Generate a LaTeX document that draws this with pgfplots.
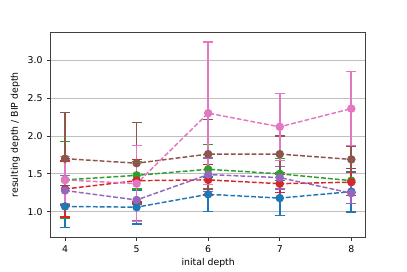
\documentclass[border=0pt]{standalone}
\usepackage{fontspec}
\setmainfont{DejaVu Sans}
\usepackage{pgfplots}
\pgfplotsset{compat=1.18}
\usepackage{pgfplotstable}
\definecolor{tblue}{HTML}{1F77B4}
\definecolor{tgreen}{HTML}{2CA02C}
\definecolor{tred}{HTML}{D62728}
\definecolor{tpurple}{HTML}{9467BD}
\definecolor{tbrown}{HTML}{8C564B}
\definecolor{tpink}{HTML}{E377C2}
\pgfplotstableread{
x y e
4 1.07 0.28
5 1.06 0.22
6 1.23 0.23
7 1.18 0.23
8 1.265 0.27
}\blue
\pgfplotstableread{
x y e
4 1.42 0.51
5 1.48 0.18
6 1.56 0.33
7 1.50 0.20
8 1.41 0.16
}\green
\pgfplotstableread{
x y e
4 1.30 0.37
5 1.41 0.28
6 1.42 0.20
7 1.37 0.12
8 1.39 0.18
}\red
\pgfplotstableread{
x y e
4 1.28 0.20
5 1.155 0.27
6 1.49 0.22
7 1.45 0.15
8 1.245 0.14
}\purple
\pgfplotstableread{
x y e
4 1.70 0.61
5 1.64 0.54
6 1.76 0.46
7 1.76 0.24
8 1.69 0.17
}\brown
\pgfplotstableread{
x y e
4 1.42 0.31
5 1.37 0.50
6 2.30 0.94
7 2.12 0.44
8 2.36 0.49
}\pink
\begin{document}
\begin{tikzpicture}
\useasboundingbox (-38pt,-25.5pt) rectangle (267pt,178pt);
\begin{axis}[
  at={(0,0)}, anchor=south west,
  scale only axis, width=236pt, height=154pt,
  xmin=3.8, xmax=8.2, ymin=0.66, ymax=3.37,
  xtick={4,5,6,7,8}, ytick={1,1.5,2,2.5,3},
  yticklabel style={/pgf/number format/.cd, fixed, fixed zerofill, precision=1},
  /pgf/number format/assume math mode=true,
  tick label style={font=\fontsize{7}{8}\selectfont},
  label style={font=\fontsize{7}{8}\selectfont},
  xlabel={inital depth}, ylabel={resulting depth / BIP depth},
  xlabel style={yshift=3pt}, ylabel style={yshift=-1pt},
  tick align=outside, xtick pos=bottom, ytick pos=left,
  major tick length=2.6pt,
  every tick/.style={black!80, line width=0.6pt},
  axis line style={black!75, line width=0.6pt},
  ymajorgrids, major grid style={black!25, line width=0.6pt},
  every axis plot/.append style={line width=1.1pt, dash pattern=on 3.6pt off 1.6pt, mark=*, mark size=2.6pt, mark options={solid}},
  error bars/y dir=both, error bars/y explicit,
  error bars/error bar style={solid, line width=1.3pt},
  error bars/error mark options={rotate=90, mark size=3.7pt, line width=1pt, solid},
]
\addplot[color=tblue] table[x=x, y=y, y error=e] {\blue};
\addplot[color=tgreen] table[x=x, y=y, y error=e] {\green};
\addplot[color=tred] table[x=x, y=y, y error=e] {\red};
\addplot[color=tpurple] table[x=x, y=y, y error=e] {\purple};
\addplot[color=tbrown] table[x=x, y=y, y error=e] {\brown};
\addplot[color=tpink] table[x=x, y=y, y error=e] {\pink};
\end{axis}
\end{tikzpicture}
\end{document}
